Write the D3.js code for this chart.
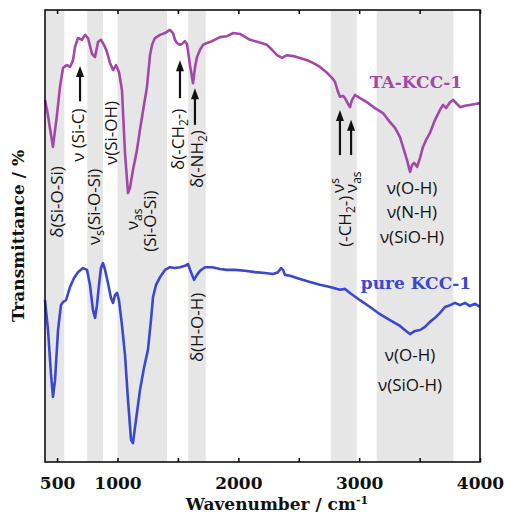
<!DOCTYPE html>
<html>
<head>
<meta charset="utf-8">
<script src="https://cdn.jsdelivr.net/npm/d3@7"></script>
<style>
body { margin: 0; background: #fff; }
svg { display: block; }
.serif { font-family: "DejaVu Serif", serif; font-weight: bold; fill: #111; }
.note { font-family: "Open Sans", sans-serif; font-size: 17px; fill: #111; }
</style>
</head>
<body>
<svg width="505" height="529"></svg>
<script>
const width = 505;
const height = 529;
const margin = { top: 10, right: 25, bottom: 67, left: 45 };

// TA-KCC-1 spectrum (wavenumber / cm-1, transmittance in arbitrary %)
const taWave = [400,417,466,499,524,549,582,607,632,648,673,706,731,756,789,814,839,863,888,913,938,963,988,1012,1037,1062,1087,1103,1128,1161,1186,1219,1244,1269,1286,1310,1352,1393,1434,1459,1476,1492,1517,1534,1559,1575,1600,1625,1641,1658,1683,1708,1741,1782,1848,1906,1956,2014,2097,2163,2237,2279,2320,2362,2403,2453,2510,2568,2618,2676,2734,2775,2800,2825,2841,2866,2883,2908,2924,2941,2966,3007,3065,3131,3197,3255,3297,3338,3371,3396,3421,3438,3454,3479,3504,3528,3553,3586,3628,3669,3694,3719,3752,3777,3810,3835,3876,3917,3959,4000];
const taTrans = [80.1,77.9,69.7,76.8,83.0,87.2,87.8,87.4,88.9,91.8,93.8,93.4,94.5,93.8,90.3,89.6,92.9,93.4,92.3,90.7,88.3,86.7,87.8,86.3,82.3,68.4,59.5,60.6,64.6,69.0,73.5,79.0,83.0,90.0,92.3,93.8,94.5,94.9,95.6,94.9,93.4,92.7,92.3,92.5,93.1,92.5,87.8,83.8,87.2,89.6,91.2,92.3,92.7,93.1,94.0,94.2,94.9,94.7,93.4,92.9,92.3,91.2,90.0,89.4,90.0,89.8,89.4,88.9,88.3,87.4,86.1,85.0,84.1,81.9,80.8,81.0,80.5,79.2,78.5,80.1,81.2,80.5,79.6,78.3,77.2,75.2,73.9,71.9,69.0,66.8,64.2,65.7,66.2,65.3,67.3,69.7,71.2,72.8,75.7,77.9,79.0,78.3,79.6,80.1,79.2,78.5,78.8,79.0,79.2,79.4];

// pure KCC-1 spectrum
const kccWave = [400,425,450,466,483,508,532,549,574,607,640,673,714,748,772,797,814,830,847,863,880,897,921,946,963,979,996,1012,1037,1062,1087,1112,1128,1153,1186,1219,1252,1277,1294,1319,1352,1393,1434,1476,1517,1559,1583,1608,1633,1658,1683,1724,1782,1848,1906,1972,2055,2138,2221,2287,2328,2353,2370,2386,2428,2510,2593,2676,2759,2841,2883,2924,3007,3090,3172,3255,3338,3388,3421,3462,3504,3545,3586,3628,3669,3710,3752,3793,3835,3876,3917,3959,4000];
const kccTrans = [35.8,29.2,19.2,14.4,18.1,29.2,34.7,35.4,35.8,38.7,40.7,42.0,42.9,42.5,39.2,33.6,31.9,34.7,39.2,42.9,44.0,42.5,39.6,36.3,35.2,36.9,37.4,35.8,30.3,23.7,13.7,4.9,4.2,9.3,15.9,20.8,24.8,31.4,36.5,39.2,40.9,42.5,43.1,42.9,43.1,43.4,43.8,42.0,40.3,41.4,42.3,43.1,43.1,42.7,42.5,42.5,42.3,42.0,41.8,41.6,42.0,42.9,42.5,41.4,41.2,40.5,39.8,39.2,38.7,38.1,38.3,37.4,35.8,34.3,32.7,31.4,30.1,29.0,28.3,29.0,29.2,29.9,31.0,31.9,33.0,34.3,34.7,35.2,34.7,35.2,34.5,35.0,34.3];

// shaded assignment regions
const bandFrom = [400, 750, 1000, 1585, 2765, 3145];
const bandTo = [560, 880, 1410, 1730, 2980, 3780];

const tickValues = [500, 1000, 1500, 2000, 2500, 3000, 3500, 4000];
const tickLabels = ["500", "1000", "", "2000", "", "3000", "", "4000"];

// vertical notes: column wavenumber, transmittance where the text begins
const noteText = ["δ(Si-O-Si)", "ν (Si-C)", "ν_s(Si-O-Si)", "ν(Si-OH)", "ν_as", "(Si-O-Si)", "δ(-CH_2-)", "δ(-NH_2)", "(-CH_2-)", "ν^s", "ν_as", "δ(H-O-H)"];
const noteWave = [499, 673, 806, 946, 1120, 1269, 1501, 1658, 2883, 2825, 2933, 1658];
const noteTrans = [49.6, 66.4, 48.0, 65.7, 51.3, 46.5, 64.6, 60.6, 47.6, 59.5, 59.5, 22.1];

// arrows pointing to the bands
const arrowWave = [690, 1517, 1641, 2841, 2933];
const arrowFrom = [79.8, 80.5, 74.6, 67.9, 67.9];
const arrowTo = [87.6, 88.9, 82.7, 77.9, 75.7];

// horizontal notes under the O-H band
const ohText = ["ν(O-H)", "ν(N-H)", "ν(SiO-H)", "ν(O-H)", "ν(SiO-H)"];
const ohWave = [3437, 3437, 3437, 3421, 3421];
const ohTrans = [60.6, 55.3, 49.8, 23.7, 17.0];

const seriesNames = ["TA-KCC-1", "pure KCC-1"];
const seriesWave = [3470, 3470];
const seriesTrans = [84.1, 39.6];
const seriesColors = ["#a348a8", "#3a47d2"];

const svg = d3.select("svg");
const x = d3.scaleLinear().domain([400, 4000]).range([margin.left, width - margin.right]);
const y = d3.scaleLinear().domain([0, 100]).range([height - margin.bottom, margin.top]);

svg.append("rect").attr("width", width).attr("height", height).attr("fill", "#fff");

svg.selectAll(".band")
    .data(d3.zip(bandFrom, bandTo))
    .enter().append("rect")
    .attr("class", "band")
    .attr("x", d => x(d[0]))
    .attr("y", y(100))
    .attr("width", d => x(d[1]) - x(d[0]))
    .attr("height", y(0) - y(100))
    .attr("fill", "#e6e6e6");

const line = d3.line().x(d => x(d[0])).y(d => y(d[1]));
[d3.zip(taWave, taTrans), d3.zip(kccWave, kccTrans)].forEach((s, i) => {
    svg.append("path")
        .datum(s)
        .attr("d", line)
        .attr("fill", "none")
        .attr("stroke", seriesColors[i])
        .attr("stroke-width", 2.6)
        .attr("stroke-linejoin", "round");
});

// axes
const bottomAxis = svg.append("g")
    .attr("transform", `translate(0,${y(0)})`)
    .call(d3.axisBottom(x).tickValues(tickValues).tickSizeInner(-4).tickSizeOuter(0).tickPadding(15)
        .tickFormat((d, i) => tickLabels[i]));
bottomAxis.selectAll("text").attr("class", "serif").style("font-size", "17px").attr("font-family", null);
bottomAxis.selectAll("line").attr("stroke-width", 1.5);
bottomAxis.select(".domain").remove();

const topAxis = svg.append("g")
    .attr("transform", `translate(0,${y(100)})`)
    .call(d3.axisTop(x).tickValues(tickValues).tickSizeInner(-4).tickSizeOuter(0).tickFormat(""));
topAxis.selectAll("line").attr("stroke-width", 1.5);
topAxis.select(".domain").remove();

svg.append("rect")
    .attr("x", x(400)).attr("y", y(100))
    .attr("width", x(4000) - x(400)).attr("height", y(0) - y(100))
    .attr("fill", "none").attr("stroke", "#111").attr("stroke-width", 1.6);

// rich text with _sub and ^sup parts
function rich(sel, str) {
    str.split(/([_^][a-z0-9]+)/).filter(p => p).forEach(p => {
        const t = sel.append("tspan");
        if (p[0] === "_") {
            t.text(p.slice(1)).style("font-size", "12px").attr("baseline-shift", "-4");
        } else if (p[0] === "^") {
            t.text(p.slice(1)).style("font-size", "12px").attr("baseline-shift", "5");
        } else {
            t.text(p);
        }
    });
}

noteText.forEach((s, i) => {
    const t = svg.append("text")
        .attr("class", "note")
        .attr("transform", `translate(${x(noteWave[i])},${y(noteTrans[i])}) rotate(-90)`)
        .attr("dy", "0.35em");
    rich(t, s);
});

arrowWave.forEach((w, i) => {
    const ax = x(w), y0 = y(arrowFrom[i]), y1 = y(arrowTo[i]);
    svg.append("line")
        .attr("x1", ax).attr("x2", ax).attr("y1", y0).attr("y2", y1 + 9)
        .attr("stroke", "#111").attr("stroke-width", 2.2);
    svg.append("path")
        .attr("d", `M${ax},${y1} L${ax - 4},${y1 + 11} L${ax + 4},${y1 + 11} Z`)
        .attr("fill", "#111");
});

ohText.forEach((s, i) => {
    svg.append("text")
        .attr("class", "note")
        .attr("x", x(ohWave[i])).attr("y", y(ohTrans[i]))
        .attr("dy", "0.35em")
        .attr("text-anchor", "middle")
        .text(s);
});

seriesNames.forEach((s, i) => {
    svg.append("text")
        .attr("class", "serif")
        .attr("x", x(seriesWave[i])).attr("y", y(seriesTrans[i]))
        .attr("dy", "0.35em")
        .attr("text-anchor", "middle")
        .style("font-size", "17px")
        .style("fill", seriesColors[i])
        .text(s);
});

// axis titles
const xt = svg.append("text")
    .attr("class", "serif")
    .attr("x", 277).attr("y", 510)
    .attr("text-anchor", "middle")
    .style("font-size", "17px");
xt.append("tspan").text("Wavenumber / cm");
xt.append("tspan").text("-1").style("font-size", "11px").attr("baseline-shift", "6");

svg.append("text")
    .attr("class", "serif")
    .attr("transform", `translate(18,${(y(0) + y(100)) / 2}) rotate(-90)`)
    .attr("dy", "0.35em")
    .attr("text-anchor", "middle")
    .style("font-size", "17px")
    .text("Transmittance / %");
</script>
</body>
</html>
